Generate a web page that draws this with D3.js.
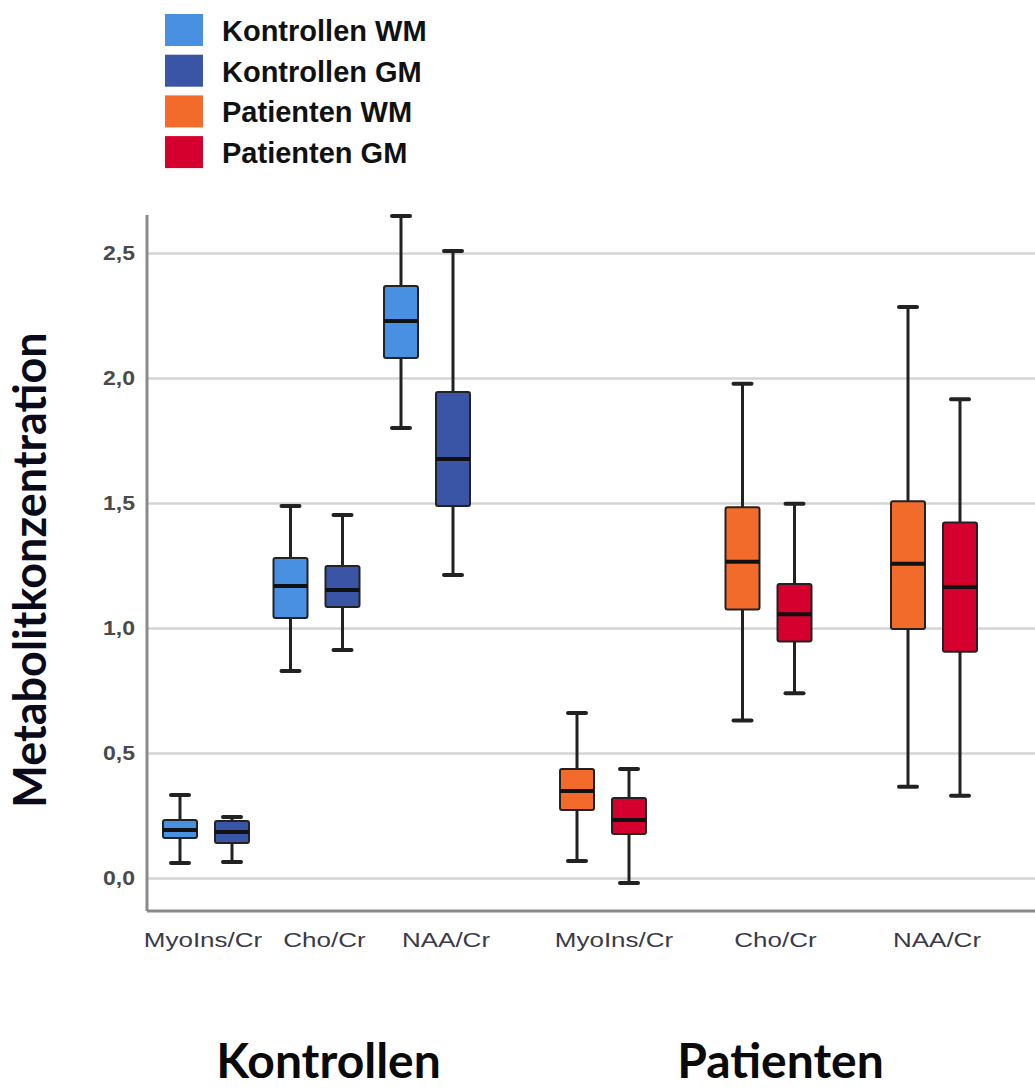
<!DOCTYPE html>
<html>
<head>
<meta charset="utf-8">
<script src="https://cdn.jsdelivr.net/npm/d3@7"></script>
<style>
  body { margin: 0; background: #fff; }
  svg { display: block; }
</style>
</head>
<body>
<svg width="1035" height="1090"></svg>
<script>
// data: [min, q1, median, q3, max] per metabolite
const groups = ["Kontrollen", "Patienten"];
const metabolites = ["MyoIns/Cr", "Cho/Cr", "NAA/Cr"];
const tissues = ["WM", "GM"];
const seriesNames = ["Kontrollen WM", "Kontrollen GM", "Patienten WM", "Patienten GM"];

const kontrollenWM = [[0.06, 0.16, 0.192, 0.232, 0.332], [0.828, 1.04, 1.168, 1.28, 1.488], [1.8, 2.08, 2.228, 2.368, 2.648]];
const kontrollenGM = [[0.064, 0.14, 0.184, 0.228, 0.244], [0.912, 1.084, 1.152, 1.248, 1.452], [1.212, 1.488, 1.676, 1.944, 2.508]];
const patientenWM = [[0.068, 0.272, 0.348, 0.436, 0.66], [0.63, 1.074, 1.265, 1.483, 1.977], [0.365, 0.996, 1.257, 1.507, 2.284]];
const patientenGM = [[-0.02, 0.176, 0.232, 0.32, 0.436], [0.739, 0.946, 1.055, 1.176, 1.497], [0.329, 0.905, 1.164, 1.422, 1.915]];

const yTicks = [0, 0.5, 1.0, 1.5, 2.0, 2.5];
const yDomain = [-0.132, 2.652];

const colors = ["#4a90e2", "#3b55a6", "#f26b2b", "#d6002e"];

var svg = d3.select("svg"),
  width = +svg.attr("width");

var plotLeft = 147, plotTop = 215, plotBottom = 911;

var y = d3.scaleLinear().domain(yDomain).range([plotBottom, plotTop]);

// each group gets its own stretch of the x axis
var groupRange = { Kontrollen: [206, 427], Patienten: [603, 934] };
var labelRange = { Kontrollen: [203, 446], Patienten: [614, 937] };
var xInner = {}, xLabel = {};
groups.forEach((g) => {
  xInner[g] = d3.scalePoint().domain(metabolites).range(groupRange[g]);
  xLabel[g] = d3.scalePoint().domain(metabolites).range(labelRange[g]);
});
var dodge = d3.scalePoint().domain(tissues).range([-26, 26]);
var color = d3.scaleOrdinal().domain(seriesNames).range(colors);

// flatten into boxes
var stats = [kontrollenWM, kontrollenGM, patientenWM, patientenGM];
var boxes = [];
seriesNames.forEach((name, i) => {
  var g = groups[Math.floor(i / 2)], t = tissues[i % 2];
  metabolites.forEach((m, j) => {
    var s = stats[i][j];
    boxes.push({ name: name, group: g, tissue: t, metab: m, min: s[0], q1: s[1], med: s[2], q3: s[3], max: s[4] });
  });
});

// grid
var grid = svg.append("g")
  .attr("transform", "translate(" + plotLeft + ",0)")
  .call(d3.axisRight(y).tickValues(yTicks).tickSize(width - plotLeft).tickFormat(""));
grid.select(".domain").remove();
grid.selectAll("line").attr("stroke", "#d4d4d4").attr("stroke-width", 2.5);

// y tick labels
svg.append("g")
  .selectAll("text")
  .data(yTicks)
  .enter()
  .append("text")
  .attr("transform", (d) => "translate(135," + (y(d) + 7) + ") scale(1.15,1)")
  .attr("text-anchor", "end")
  .attr("font-family", "Liberation Sans, Arial, sans-serif")
  .attr("font-weight", "bold")
  .attr("font-size", 20)
  .attr("fill", "#4a4a4a")
  .text((d) => d3.format(".1f")(d).replace(".", ","));

// axis lines
svg.append("line").attr("x1", plotLeft).attr("x2", plotLeft).attr("y1", plotTop).attr("y2", plotBottom)
  .attr("stroke", "#8a8a8a").attr("stroke-width", 3);
svg.append("line").attr("x1", plotLeft).attr("x2", width).attr("y1", plotBottom).attr("y2", plotBottom)
  .attr("stroke", "#8a8a8a").attr("stroke-width", 3);

// boxplots
var boxW = 34, capW = 18;
var bx = (d) => xInner[d.group](d.metab) + dodge(d.tissue);

var b = svg.append("g")
  .selectAll(".box")
  .data(boxes)
  .enter()
  .append("g")
  .attr("class", "box");
b.append("line")
  .attr("x1", bx).attr("x2", bx)
  .attr("y1", (d) => y(d.max)).attr("y2", (d) => y(d.min))
  .attr("stroke", "#222").attr("stroke-width", 3);
b.append("line")
  .attr("x1", (d) => bx(d) - capW / 2).attr("x2", (d) => bx(d) + capW / 2)
  .attr("y1", (d) => y(d.max)).attr("y2", (d) => y(d.max))
  .attr("stroke", "#222").attr("stroke-width", 4).attr("stroke-linecap", "round");
b.append("line")
  .attr("x1", (d) => bx(d) - capW / 2).attr("x2", (d) => bx(d) + capW / 2)
  .attr("y1", (d) => y(d.min)).attr("y2", (d) => y(d.min))
  .attr("stroke", "#222").attr("stroke-width", 4).attr("stroke-linecap", "round");
b.append("rect")
  .attr("x", (d) => bx(d) - boxW / 2)
  .attr("y", (d) => y(d.q3))
  .attr("width", boxW)
  .attr("height", (d) => y(d.q1) - y(d.q3))
  .attr("rx", 2)
  .attr("fill", (d) => color(d.name))
  .attr("stroke", "#222").attr("stroke-width", 2);
b.append("line")
  .attr("x1", (d) => bx(d) - boxW / 2).attr("x2", (d) => bx(d) + boxW / 2)
  .attr("y1", (d) => y(d.med)).attr("y2", (d) => y(d.med))
  .attr("stroke", "#111").attr("stroke-width", 4);

// x category labels
groups.forEach((g) => {
  svg.append("g")
    .selectAll("text")
    .data(metabolites)
    .enter()
    .append("text")
    .attr("transform", (m) => "translate(" + xLabel[g](m) + ",947) scale(1.3,1)")
    .attr("text-anchor", "middle")
    .attr("font-family", "Liberation Sans, Arial, sans-serif")
    .attr("font-size", 20)
    .attr("fill", "#3a3a48")
    .text((m) => m);
});

// group titles
svg.append("g")
  .selectAll("text")
  .data(groups)
  .enter()
  .append("text")
  .attr("x", (g) => d3.mean(groupRange[g]) + 12)
  .attr("y", 1078)
  .attr("text-anchor", "middle")
  .attr("font-family", "Lato, sans-serif")
  .attr("font-weight", "bold")
  .attr("font-size", 48)
  .attr("fill", "#0a0a0a")
  .text((g) => g);

// y title
svg.append("text")
  .attr("transform", "translate(46,570) rotate(-90)")
  .attr("text-anchor", "middle")
  .attr("font-family", "Lato, sans-serif")
  .attr("font-weight", "bold")
  .attr("font-size", 45)
  .attr("fill", "#0a0a1a")
  .text("Metabolitkonzentration");

// legend
var leg = svg.append("g")
  .selectAll(".leg")
  .data(seriesNames)
  .enter()
  .append("g")
  .attr("class", "leg")
  .attr("transform", (d, i) => "translate(165," + (14 + i * 40.7) + ")");
leg.append("rect")
  .attr("width", 38).attr("height", 32)
  .attr("fill", (d) => color(d));
leg.append("text")
  .attr("x", 57).attr("y", 27)
  .attr("font-family", "Liberation Sans, Arial, sans-serif")
  .attr("font-weight", "bold")
  .attr("font-size", 29)
  .attr("fill", "#111")
  .text((d) => d);
</script>
</body>
</html>
